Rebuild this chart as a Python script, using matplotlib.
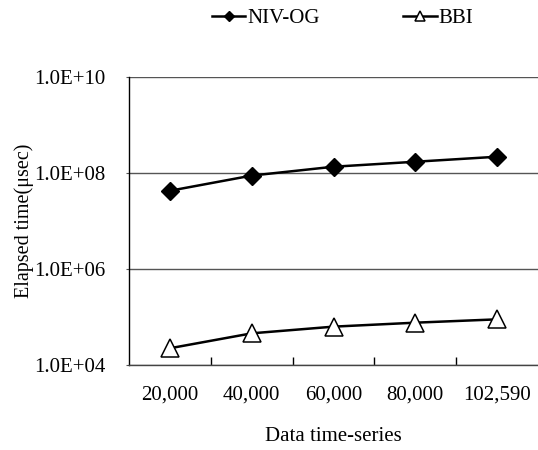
import matplotlib
matplotlib.use("Agg")
import matplotlib.pyplot as plt
from matplotlib.ticker import FixedLocator, NullFormatter

plt.rcParams['font.family'] = ['Liberation Serif', 'DejaVu Serif']

categories = ["20,000", "40,000", "60,000", "80,000", "102,590"]
niv_og = [4.2e7, 8.7e7, 1.33e8, 1.69e8, 2.15e8]
bbi = [2.2e4, 4.5e4, 6.2e4, 7.5e4, 8.8e4]
y_ticks = [1e4, 1e6, 1e8, 1e10]
y_tick_labels = ["1.0E+04", "1.0E+06", "1.0E+08", "1.0E+10"]

fig = plt.figure(figsize=(5.38, 4.5), dpi=100)
ax = fig.add_axes([0.2398, 0.1896, 0.7602, 0.64])

x = list(range(len(categories)))
l1, = ax.plot(x, niv_og, color='black', lw=1.8, marker='D', ms=8.8,
              mfc='black', mec='black', label='NIV-OG', zorder=3)
l2, = ax.plot(x, bbi, color='black', lw=1.8, marker='^', ms=12.5,
              mfc='white', mec='black', mew=1.1, label='BBI', zorder=3)

ax.set_yscale('log')
ax.set_ylim(1e4, 1e10)
ax.set_xlim(-0.5, len(categories) - 0.5)
ax.yaxis.set_major_locator(FixedLocator(y_ticks))
ax.set_yticklabels(y_tick_labels)
ax.yaxis.set_minor_locator(FixedLocator([]))
ax.yaxis.set_minor_formatter(NullFormatter())
ax.grid(axis='y', which='major', color='#555555', lw=1.0)
ax.set_axisbelow(True)

ax.set_xticks(x)
ax.set_xticklabels(categories)
ax.set_xticks([i + 0.5 for i in range(len(categories) - 1)], minor=True)
ax.tick_params(axis='x', which='major', length=0, pad=15, labelsize=15)
ax.tick_params(axis='x', which='minor', direction='in', length=6, width=1, color='black')
ax.tick_params(axis='y', which='major', length=2, pad=15, labelsize=15, color='#555555')

for s in ['top', 'right']:
    ax.spines[s].set_visible(False)
ax.spines['left'].set_color('black')
ax.spines['bottom'].set_color('#444444')
ax.spines['left'].set_linewidth(1.0)
ax.spines['bottom'].set_linewidth(1.0)

ax.set_ylabel("Elapsed time(μsec)", fontsize=14.5, labelpad=0)
ax.set_xlabel("Data time-series", fontsize=15, labelpad=16)

fig.legend(handles=[l1, l2], loc='center', bbox_to_anchor=(0.637, 0.96),
           ncol=2, frameon=False, fontsize=15, markerscale=0.55,
           handlelength=1.6, handletextpad=0.1, columnspacing=4.0)

fig.savefig("out.png", dpi=100)
